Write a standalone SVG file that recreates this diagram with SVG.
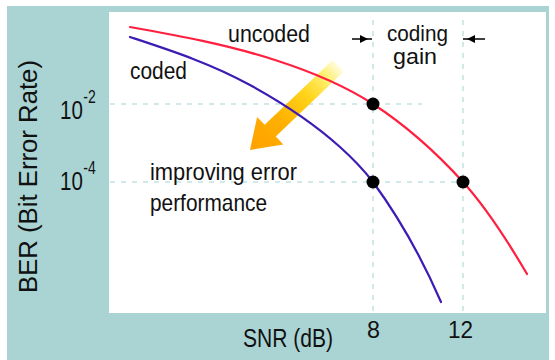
<svg xmlns="http://www.w3.org/2000/svg" width="555" height="360" viewBox="0 0 555 360">
  <defs>
    <style>
      .lbl { font-family: "Liberation Sans", Arial, sans-serif; fill: #111; }
      .grid { stroke: #c4e2e2; stroke-width: 1.5; stroke-dasharray: 5 6; fill: none; }
      .curve { fill: none; stroke-width: 2.2; stroke-linecap: round; }
      .pt { fill: #000; }
    </style>
    <linearGradient id="arrowFill" gradientUnits="userSpaceOnUse" x1="0" y1="0" x2="122" y2="0">
      <stop offset="0" stop-color="#ffa000"/>
      <stop offset="0.35" stop-color="#ffb000"/>
      <stop offset="0.65" stop-color="#ffd41c"/>
      <stop offset="0.88" stop-color="#fff27a"/>
      <stop offset="1" stop-color="#fffbe0"/>
    </linearGradient>
  </defs>

  <!-- background panel and plot area -->
  <rect x="0" y="0" width="555" height="360" fill="#ffffff"/>
  <rect id="panel" x="7" y="6" width="542" height="354" fill="#aad4d4"/>
  <rect id="plot" x="109" y="12" width="437" height="301" fill="#ffffff"/>

  <!-- dashed guide lines -->
  <g id="grid">
    <line class="grid" x1="110" y1="104" x2="422" y2="104"/>
    <line class="grid" x1="110" y1="182" x2="463" y2="182"/>
    <line class="grid" x1="373" y1="20" x2="373" y2="312"/>
    <line class="grid" x1="463" y1="20" x2="463" y2="312"/>
  </g>

  <!-- improvement arrow -->
  <g id="improve-arrow" transform="translate(250,150) rotate(-43.7)">
    <polygon points="0,0 28,-19 28,-8 122,-8 122,8 28,8 28,19" fill="url(#arrowFill)"/>
  </g>

  <!-- BER curves -->
  <g id="connectors">
    <path id="uncoded-curve" class="curve" stroke="#ff2040"
          d="M130,27 C178.3,35.7 226.7,44.5 275,60 C307.7,70.5 340.3,82.8 373,104 C403,123.5 433,149 463,182 C484.3,205.5 505.7,237.7 527,274"/>
    <path id="coded-curve" class="curve" stroke="#3c1cb4"
          d="M130,37 C170,50.2 210,63 250,85 C280,101.5 310,120 340,147 C351,156.9 362,167.7 373,182 C395.7,213 418.3,249.8 441,302"/>
    <!-- coding gain markers -->
    <line x1="352" y1="39" x2="372" y2="39" stroke="#000" stroke-width="1.5"/>
    <polygon points="360,35 368,39 360,43" fill="#000"/>
    <line x1="463" y1="39" x2="485" y2="39" stroke="#000" stroke-width="1.5"/>
    <polygon points="475,35 467,39 475,43" fill="#000"/>
  </g>

  <!-- operating points -->
  <g id="point-uncoded-1e-2"><circle class="pt" cx="373" cy="104" r="6.5"/></g>
  <g id="point-coded-1e-4"><circle class="pt" cx="373" cy="182" r="6.5"/></g>
  <g id="point-uncoded-1e-4"><circle class="pt" cx="463" cy="182" r="6.5"/></g>

  <!-- labels -->
  <g id="label-uncoded"><text class="lbl" x="228" y="42" font-size="23" textLength="82" lengthAdjust="spacingAndGlyphs">uncoded</text></g>
  <g id="label-coded"><text class="lbl" x="130" y="79" font-size="23" textLength="57" lengthAdjust="spacingAndGlyphs">coded</text></g>
  <g id="label-coding-gain">
    <text class="lbl" x="387" y="41" font-size="22" textLength="61" lengthAdjust="spacingAndGlyphs">coding</text>
    <text class="lbl" x="393" y="64" font-size="22" textLength="44" lengthAdjust="spacingAndGlyphs">gain</text>
  </g>
  <g id="label-improving">
    <text class="lbl" x="150" y="180" font-size="24" textLength="147" lengthAdjust="spacingAndGlyphs">improving error</text>
    <text class="lbl" x="150" y="211" font-size="24" textLength="117" lengthAdjust="spacingAndGlyphs">performance</text>
  </g>
  <!-- y ticks: tall, narrow digits with a raised exponent -->
  <g id="tick-1e-2">
    <text class="lbl" transform="translate(60,119) scale(1,1.25)" font-size="20.5">10<tspan dx="0.5" dy="-12.8" font-size="14">-2</tspan></text>
  </g>
  <g id="tick-1e-4">
    <text class="lbl" transform="translate(60,190) scale(1,1.25)" font-size="20.5">10<tspan dx="0.5" dy="-13.2" font-size="14">-4</tspan></text>
  </g>
  <g id="tick-8"><text class="lbl" x="367" y="338" font-size="24" textLength="13" lengthAdjust="spacingAndGlyphs">8</text></g>
  <g id="tick-12"><text class="lbl" x="448" y="338" font-size="24" textLength="25" lengthAdjust="spacingAndGlyphs">12</text></g>
  <g id="axis-x"><text class="lbl" x="243" y="347" font-size="25" textLength="90" lengthAdjust="spacingAndGlyphs">SNR (dB)</text></g>
  <g id="axis-y"><text class="lbl" transform="translate(37,293) rotate(-90)" x="0" y="0" font-size="25" textLength="233" lengthAdjust="spacingAndGlyphs">BER (Bit Error Rate)</text></g>
</svg>
